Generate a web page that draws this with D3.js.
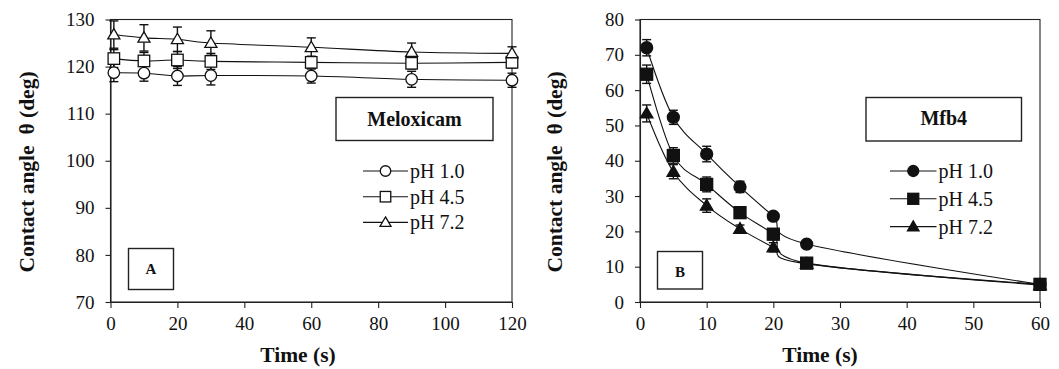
<!DOCTYPE html>
<html>
<head>
<meta charset="utf-8">
<script src="https://cdn.jsdelivr.net/npm/d3@7"></script>
<style>
  html, body { margin: 0; padding: 0; background: #fff; }
  svg { display: block; }
  text { font-family: "Liberation Serif", "Times New Roman", serif; fill: #111; }
</style>
</head>
<body>
<svg id="chart" width="1059" height="369"></svg>
<script>
// Meloxicam (panel A): contact angle vs time
const timeA = [1, 10, 20, 30, 60, 90, 120];
const meloxPH10 = [118.7, 118.6, 118.0, 118.1, 118.0, 117.3, 117.1];
const meloxPH45 = [121.7, 121.2, 121.4, 121.1, 120.9, 120.7, 120.9];
const meloxPH72 = [126.8, 126.1, 125.8, 125.0, 124.1, 123.1, 122.8];
const meloxPH10sd = [1.9, 1.7, 2.0, 2.0, 1.5, 1.7, 1.5];
const meloxPH45sd = [1.9, 1.8, 1.8, 1.7, 1.3, 1.2, 1.2];
const meloxPH72sd = [2.9, 2.8, 2.6, 2.6, 2.0, 1.9, 1.4];

// Mfb4 (panel B): contact angle vs time
const timeB = [1, 5, 10, 15, 20, 25, 60];
const mfbPH10 = [72.0, 52.3, 41.9, 32.6, 24.3, 16.4, 5.0];
const mfbPH45 = [64.5, 41.5, 33.3, 25.3, 19.2, 11.0, 5.0];
const mfbPH72 = [53.4, 36.9, 27.3, 20.7, 15.5, 10.8, 4.8];
const mfbPH10sd = [2.3, 2.0, 2.2, 1.6, 1.0, 0.8, 0.8];
const mfbPH45sd = [2.6, 2.2, 2.1, 1.4, 1.5, 0.9, 0.8];
const mfbPH72sd = [2.4, 2.0, 1.9, 1.1, 1.3, 0.8, 0.8];

const seriesNames = ["pH 1.0", "pH 4.5", "pH 7.2"];
const shapes = ["circle", "square", "triangle"];

const ticksA_x = [0, 20, 40, 60, 80, 100, 120];
const ticksA_y = [70, 80, 90, 100, 110, 120, 130];
const ticksB_x = [0, 10, 20, 30, 40, 50, 60];
const ticksB_y = [0, 10, 20, 30, 40, 50, 60, 70, 80];

const svg = d3.select("#chart");
const INK = "#111";

function marker(g, shape, cx, cy, size, filled) {
  const fill = filled ? INK : "#fff";
  if (shape === "circle") {
    g.append("circle").attr("cx", cx).attr("cy", cy).attr("r", size / 2)
      .attr("fill", fill).attr("stroke", INK).attr("stroke-width", 1.3);
  } else if (shape === "square") {
    g.append("rect").attr("x", cx - size / 2).attr("y", cy - size / 2)
      .attr("width", size).attr("height", size)
      .attr("fill", fill).attr("stroke", INK).attr("stroke-width", 1.3);
  } else {
    const h = size * 0.9, w = size * 1.05;
    g.append("path")
      .attr("d", `M${cx},${cy - h * 0.58}L${cx + w / 2},${cy + h * 0.42}L${cx - w / 2},${cy + h * 0.42}Z`)
      .attr("fill", fill).attr("stroke", INK).attr("stroke-width", 1.3);
  }
}

function panel(cfg) {
  const x = d3.scaleLinear().domain(cfg.xDomain).range([cfg.left, cfg.right]);
  const y = d3.scaleLinear().domain(cfg.yDomain).range([cfg.bottom, cfg.top]);
  const g = svg.append("g");

  // plot frame
  g.append("rect").attr("x", cfg.left).attr("y", cfg.top)
    .attr("width", cfg.right - cfg.left).attr("height", cfg.bottom - cfg.top)
    .attr("fill", "none").attr("stroke", "#222").attr("stroke-width", 1.1);

  // axes
  const ax = g.append("g").attr("transform", `translate(0,${cfg.bottom})`)
    .call(d3.axisBottom(x).tickValues(cfg.xTicks).tickSize(6).tickSizeOuter(0).tickPadding(9));
  const ay = g.append("g").attr("transform", `translate(${cfg.left},0)`)
    .call(d3.axisLeft(y).tickValues(cfg.yTicks).tickSize(5).tickSizeOuter(0).tickPadding(11));
  [ax, ay].forEach(a => {
    a.select(".domain").attr("stroke", "#222").attr("stroke-width", 1.1);
    a.selectAll(".tick line").attr("stroke", "#222").attr("stroke-width", 1.1);
    a.selectAll("text").attr("font-size", 19).attr("fill", "#111")
      .attr("font-family", '"Liberation Serif", "Times New Roman", serif');
  });

  // axis titles
  g.append("text").attr("x", cfg.xTitleX).attr("y", 361.5).attr("text-anchor", "middle")
    .attr("font-size", 21.5).attr("font-weight", "bold").text("Time (s)");
  g.append("text").attr("transform", `translate(${cfg.yTitleX},172) rotate(-90)`)
    .attr("text-anchor", "middle").attr("font-size", 21.5).attr("font-weight", "bold")
    .attr("xml:space", "preserve").style("white-space", "pre")
    .text("Contact angle  \u03b8 (deg)");

  // series lines (smoothed)
  const line = d3.line().x(d => x(d[0])).y(d => y(d[1])).curve(d3.curveCardinal.tension(0));
  cfg.series.forEach(s => {
    const pts = cfg.time.map((t, i) => [t, s.values[i]]);
    g.append("path").attr("d", line(pts)).attr("fill", "none")
      .attr("stroke", INK).attr("stroke-width", 1.1);
  });

  // error bars
  cfg.series.forEach(s => {
    cfg.time.forEach((t, i) => {
      const cx = x(t), y1 = y(s.values[i] + s.sd[i]), y0 = y(s.values[i] - s.sd[i]);
      g.append("line").attr("x1", cx).attr("x2", cx).attr("y1", y1).attr("y2", y0)
        .attr("stroke", INK).attr("stroke-width", 1.4);
      [y1, y0].forEach(yy => g.append("line").attr("x1", cx - 4.5).attr("x2", cx + 4.5)
        .attr("y1", yy).attr("y2", yy).attr("stroke", INK).attr("stroke-width", 1.4));
    });
  });

  // markers
  cfg.series.forEach((s, k) => {
    cfg.time.forEach((t, i) => marker(g, shapes[k], x(t), y(s.values[i]), cfg.msize, cfg.filled));
  });

  // title box
  const tb = cfg.titleBox;
  g.append("rect").attr("x", tb.x0).attr("y", tb.y0).attr("width", tb.x1 - tb.x0)
    .attr("height", tb.y1 - tb.y0).attr("fill", "#fff").attr("stroke", "#222").attr("stroke-width", 1.4);
  g.append("text").attr("x", (tb.x0 + tb.x1) / 2).attr("y", tb.base).attr("text-anchor", "middle")
    .attr("font-size", 20).attr("font-weight", "bold").text(cfg.title);

  // legend
  const lg = cfg.legend;
  seriesNames.forEach((name, k) => {
    const yy = lg.y0 + k * lg.dy;
    g.append("line").attr("x1", lg.x0).attr("x2", lg.x1).attr("y1", yy).attr("y2", yy)
      .attr("stroke", INK).attr("stroke-width", 1.1);
    marker(g, shapes[k], (lg.x0 + lg.x1) / 2, yy, cfg.msize - 1, cfg.filled);
    g.append("text").attr("x", lg.x1 + 2).attr("y", yy + 7).attr("font-size", 20).text(name);
  });

  // panel letter box
  const pb = cfg.letterBox;
  g.append("rect").attr("x", pb.x0).attr("y", pb.y0).attr("width", pb.x1 - pb.x0)
    .attr("height", pb.y1 - pb.y0).attr("fill", "#fff").attr("stroke", "#222").attr("stroke-width", 1.4);
  g.append("text").attr("x", (pb.x0 + pb.x1) / 2).attr("y", pb.base).attr("text-anchor", "middle")
    .attr("font-size", 15).attr("font-weight", "bold").text(cfg.letter);
}

panel({
  left: 110.5, right: 512, top: 19.5, bottom: 302,
  xDomain: [0, 120], yDomain: [70, 130], xTicks: ticksA_x, yTicks: ticksA_y,
  time: timeA,
  series: [
    { values: meloxPH10, sd: meloxPH10sd },
    { values: meloxPH45, sd: meloxPH45sd },
    { values: meloxPH72, sd: meloxPH72sd }
  ],
  filled: false, msize: 11.5,
  xTitleX: 298, yTitleX: 34,
  title: "Meloxicam", titleBox: { x0: 336, x1: 493, y0: 97.5, y1: 140.5, base: 125.5 },
  legend: { x0: 363, x1: 408, y0: 171, dy: 25.7 },
  letter: "A", letterBox: { x0: 128.5, x1: 173.5, y0: 248.5, y1: 289.5, base: 274 }
});

panel({
  left: 640, right: 1040, top: 19.5, bottom: 302,
  xDomain: [0, 60], yDomain: [0, 80], xTicks: ticksB_x, yTicks: ticksB_y,
  time: timeB,
  series: [
    { values: mfbPH10, sd: mfbPH10sd },
    { values: mfbPH45, sd: mfbPH45sd },
    { values: mfbPH72, sd: mfbPH72sd }
  ],
  filled: true, msize: 12,
  xTitleX: 820, yTitleX: 562,
  title: "Mfb4", titleBox: { x0: 866, x1: 1021.5, y0: 97.5, y1: 141, base: 125 },
  legend: { x0: 890, x1: 936.5, y0: 171, dy: 27.8 },
  letter: "B", letterBox: { x0: 657.5, x1: 702.5, y0: 251.5, y1: 289, base: 276.5 }
});
</script>
</body>
</html>
